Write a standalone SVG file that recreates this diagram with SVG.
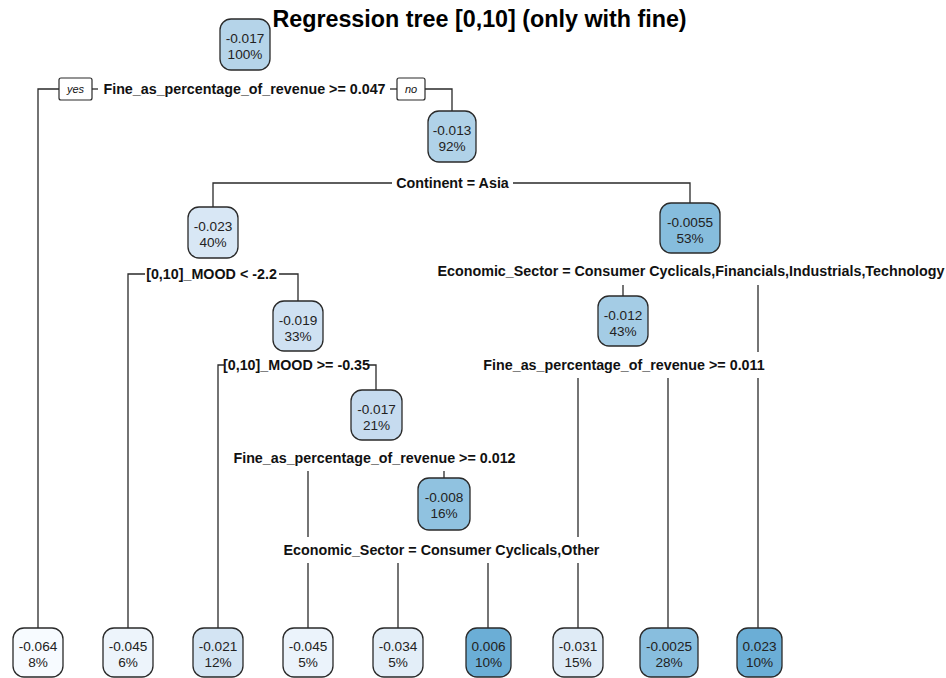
<svg xmlns="http://www.w3.org/2000/svg" width="946" height="678" viewBox="0 0 946 678">
<style>
.bg{fill:#ffffff}
.node rect{stroke:#2a2a2a;stroke-width:1.3}
.node text{font-family:"Liberation Sans",Arial,sans-serif;font-size:13.6px;fill:#222;text-anchor:middle}
.split{font-family:"Liberation Sans",Arial,sans-serif;font-size:14.3px;font-weight:bold;fill:#111;text-anchor:middle}
.title{font-family:"Liberation Sans",Arial,sans-serif;font-size:23.3px;font-weight:bold;fill:#000;text-anchor:middle}
.edge{fill:none;stroke:#2a2a2a;stroke-width:1.3}
.yn rect{fill:#fff;stroke:#2a2a2a;stroke-width:1.2}
.yn text{font-family:"Liberation Sans",Arial,sans-serif;font-size:11px;font-style:italic;fill:#111;text-anchor:middle}
</style>
<rect class="bg" x="0" y="0" width="946" height="678"/>
<text class="title" x="479.5" y="27">Regression tree [0,10] (only with fine)</text>

<g id="connectors">
<path class="edge" d="M38,628 V89 H59"/>
<path class="edge" d="M92,89 H98"/>
<path class="edge" d="M390,89 H397"/>
<path class="edge" d="M425,89 H452 V111"/>
<path class="edge" d="M213,208 V183 H392"/>
<path class="edge" d="M513,183 H690 V203"/>
<path class="edge" d="M128,628 V274 H145"/>
<path class="edge" d="M279,274 H298 V301"/>
<path class="edge" d="M218,628 V365 H224"/>
<path class="edge" d="M368,365 H376 V390"/>
<path class="edge" d="M308,471 V537"/>
<path class="edge" d="M308,563 V628"/>
<path class="edge" d="M444,471 V478"/>
<path class="edge" d="M398,563 V628"/>
<path class="edge" d="M488,563 V628"/>
<path class="edge" d="M623,285 V296"/>
<path class="edge" d="M758,285 V352"/>
<path class="edge" d="M758,378 V628"/>
<path class="edge" d="M578,378 V537"/>
<path class="edge" d="M578,563 V628"/>
<path class="edge" d="M668,378 V628"/>
</g>

<g id="split-labels">
<text class="split" x="244.5" y="94">Fine_as_percentage_of_revenue &gt;= 0.047</text>
<text class="split" x="452.5" y="188">Continent = Asia</text>
<text class="split" x="211.5" y="279">[0,10]_MOOD &lt; -2.2</text>
<text class="split" x="296.5" y="370">[0,10]_MOOD &gt;= -0.35</text>
<text class="split" x="374.5" y="463">Fine_as_percentage_of_revenue &gt;= 0.012</text>
<text class="split" x="441.5" y="555">Economic_Sector = Consumer Cyclicals,Other</text>
<text class="split" x="691" y="276">Economic_Sector = Consumer Cyclicals,Financials,Industrials,Technology</text>
<text class="split" x="624" y="370">Fine_as_percentage_of_revenue &gt;= 0.011</text>
</g>

<g id="yes" class="yn"><rect x="59" y="78" width="33" height="22" rx="2"/><text x="75.5" y="93">yes</text></g>
<g id="no" class="yn"><rect x="397" y="78" width="28" height="22" rx="2"/><text x="411" y="93">no</text></g>

<g id="n1" class="node"><rect x="220" y="19" width="50" height="51" rx="11" fill="#b5d4e9"/><text x="245" y="43">-0.017</text><text x="245" y="59">100%</text></g>
<g id="n3" class="node"><rect x="428" y="111" width="48" height="51" rx="11" fill="#b0d2e8"/><text x="452" y="135">-0.013</text><text x="452" y="151">92%</text></g>
<g id="n6" class="node"><rect x="188" y="207" width="50" height="51" rx="11" fill="#d8e7f5"/><text x="213" y="231">-0.023</text><text x="213" y="247">40%</text></g>
<g id="n7" class="node"><rect x="660" y="203" width="60" height="50" rx="11" fill="#86bddd"/><text x="690" y="227">-0.0055</text><text x="690" y="243">53%</text></g>
<g id="n13" class="node"><rect x="273" y="301" width="50" height="50" rx="11" fill="#cfe1f2"/><text x="298" y="325">-0.019</text><text x="298" y="341">33%</text></g>
<g id="n14" class="node"><rect x="598" y="296" width="50" height="50" rx="11" fill="#a4cce5"/><text x="623" y="320">-0.012</text><text x="623" y="336">43%</text></g>
<g id="n27" class="node"><rect x="351" y="390" width="51" height="50" rx="11" fill="#c6dbef"/><text x="376.5" y="414">-0.017</text><text x="376.5" y="430">21%</text></g>
<g id="n55" class="node"><rect x="418" y="478" width="52" height="52" rx="11" fill="#90c2e0"/><text x="444" y="502">-0.008</text><text x="444" y="518">16%</text></g>

<g id="leaf1" class="node"><rect x="13" y="628" width="50" height="49" rx="11" fill="#f7fbff"/><text x="38" y="651">-0.064</text><text x="38" y="667">8%</text></g>
<g id="leaf2" class="node"><rect x="103" y="628" width="50" height="49" rx="11" fill="#edf4fb"/><text x="128" y="651">-0.045</text><text x="128" y="667">6%</text></g>
<g id="leaf3" class="node"><rect x="193" y="628" width="50" height="49" rx="11" fill="#d3e4f3"/><text x="218" y="651">-0.021</text><text x="218" y="667">12%</text></g>
<g id="leaf4" class="node"><rect x="283" y="628" width="50" height="49" rx="11" fill="#ebf3fb"/><text x="308" y="651">-0.045</text><text x="308" y="667">5%</text></g>
<g id="leaf5" class="node"><rect x="373" y="628" width="50" height="49" rx="11" fill="#e3eef8"/><text x="398" y="651">-0.034</text><text x="398" y="667">5%</text></g>
<g id="leaf6" class="node"><rect x="466" y="628" width="45" height="49" rx="11" fill="#6baed6"/><text x="488.5" y="651">0.006</text><text x="488.5" y="667">10%</text></g>
<g id="leaf7" class="node"><rect x="553" y="628" width="50" height="49" rx="11" fill="#dfebf6"/><text x="578" y="651">-0.031</text><text x="578" y="667">15%</text></g>
<g id="leaf8" class="node"><rect x="640" y="628" width="58" height="49" rx="11" fill="#88bede"/><text x="669" y="651">-0.0025</text><text x="669" y="667">28%</text></g>
<g id="leaf9" class="node"><rect x="737" y="628" width="45" height="49" rx="11" fill="#6baed6"/><text x="759.5" y="651">0.023</text><text x="759.5" y="667">10%</text></g>
</svg>
